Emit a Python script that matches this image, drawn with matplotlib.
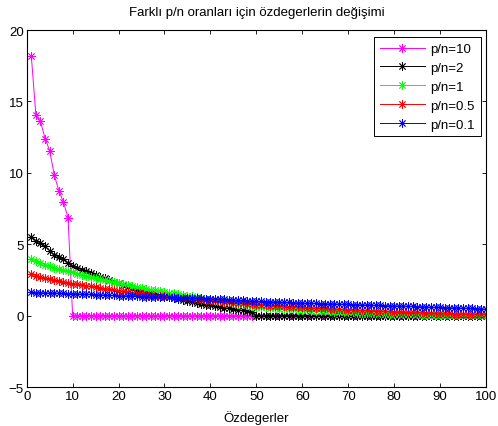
import matplotlib
matplotlib.use("Agg")
import matplotlib.pyplot as plt

plt.rcParams['font.family'] = ['Liberation Sans', 'DejaVu Sans']

eig_index = list(range(1, 101))

pn10 = [18.2, 14.05, 13.6, 12.4, 11.55, 9.85, 8.75, 7.95, 6.85, 0.0,
        0, 0, 0, 0, 0, 0, 0, 0, 0, 0,
        0, 0, 0, 0, 0, 0, 0, 0, 0, 0,
        0, 0, 0, 0, 0, 0, 0, 0, 0, 0,
        0, 0, 0, 0, 0, 0, 0, 0, 0, 0,
        0, 0, 0, 0, 0, 0, 0, 0, 0, 0,
        0, 0, 0, 0, 0, 0, 0, 0, 0, 0,
        0, 0, 0, 0, 0, 0, 0, 0, 0, 0,
        0, 0, 0, 0, 0, 0, 0, 0, 0, 0,
        0, 0, 0, 0, 0, 0, 0, 0, 0, 0]

pn2 = [5.5, 5.25, 5.1, 4.85, 4.55, 4.25, 4.1, 3.95, 3.7, 3.45,
       3.35, 3.2, 3.1, 2.95, 2.85, 2.72, 2.6, 2.5, 2.38, 2.25,
       2.12, 2.0, 1.9, 1.8, 1.72, 1.64, 1.56, 1.48, 1.4, 1.33,
       1.27, 1.2, 1.13, 1.06, 1.0, 0.94, 0.88, 0.82, 0.77, 0.72,
       0.66, 0.61, 0.56, 0.51, 0.46, 0.41, 0.36, 0.3, 0.22, 0.0,
       0, 0, 0, 0, 0, 0, 0, 0, 0, 0,
       0, 0, 0, 0, 0, 0, 0, 0, 0, 0,
       0, 0, 0, 0, 0, 0, 0, 0, 0, 0,
       0, 0, 0, 0, 0, 0, 0, 0, 0, 0,
       0, 0, 0, 0, 0, 0, 0, 0, 0, 0]

pn1 = [3.95, 3.8, 3.65, 3.55, 3.45, 3.35, 3.25, 3.17, 3.1, 3.02,
       2.94, 2.86, 2.78, 2.7, 2.62, 2.54, 2.46, 2.39, 2.32, 2.25,
       2.18, 2.12, 2.06, 2.0, 1.94, 1.88, 1.82, 1.76, 1.7, 1.65,
       1.6, 1.55, 1.5, 1.45, 1.4, 1.35, 1.3, 1.24, 1.19, 1.14,
       1.09, 1.04, 0.99, 0.94, 0.89, 0.84, 0.79, 0.74, 0.69, 0.62,
       0.6, 0.57, 0.55, 0.52, 0.49, 0.47, 0.45, 0.43, 0.41, 0.39,
       0.37, 0.35, 0.33, 0.32, 0.3, 0.29, 0.27, 0.26, 0.24, 0.23,
       0.22, 0.2, 0.19, 0.18, 0.17, 0.16, 0.15, 0.14, 0.13, 0.12,
       0.11, 0.1, 0.09, 0.09, 0.08, 0.07, 0.06, 0.06, 0.05, 0.05,
       0.04, 0.04, 0.03, 0.03, 0.02, 0.02, 0.01, 0.01, 0.01, 0.0]

pn05 = [2.9, 2.78, 2.7, 2.62, 2.55, 2.48, 2.42, 2.36, 2.3, 2.24,
        2.19, 2.14, 2.09, 2.04, 1.99, 1.94, 1.89, 1.84, 1.79, 1.74,
        1.69, 1.64, 1.59, 1.55, 1.51, 1.47, 1.43, 1.4, 1.37, 1.34,
        1.31, 1.28, 1.25, 1.22, 1.2, 1.17, 1.15, 1.12, 1.09, 1.06,
        1.03, 1.0, 0.97, 0.94, 0.91, 0.88, 0.85, 0.82, 0.79, 0.76,
        0.74, 0.72, 0.7, 0.68, 0.66, 0.65, 0.63, 0.61, 0.6, 0.58,
        0.56, 0.55, 0.53, 0.52, 0.5, 0.49, 0.47, 0.46, 0.44, 0.42,
        0.41, 0.39, 0.38, 0.37, 0.35, 0.34, 0.32, 0.31, 0.3, 0.28,
        0.27, 0.26, 0.25, 0.24, 0.23, 0.22, 0.21, 0.2, 0.19, 0.17,
        0.16, 0.15, 0.14, 0.13, 0.12, 0.11, 0.1, 0.09, 0.09, 0.08]

pn01 = [1.63, 1.61, 1.6, 1.59, 1.58, 1.57, 1.56, 1.55, 1.54, 1.53,
        1.52, 1.5, 1.49, 1.48, 1.46, 1.45, 1.44, 1.42, 1.41, 1.4,
        1.38, 1.37, 1.35, 1.34, 1.33, 1.32, 1.31, 1.3, 1.29, 1.28,
        1.27, 1.26, 1.25, 1.24, 1.23, 1.22, 1.21, 1.2, 1.18, 1.17,
        1.16, 1.14, 1.13, 1.12, 1.1, 1.09, 1.07, 1.05, 1.03, 1.0,
        0.99, 0.98, 0.97, 0.96, 0.95, 0.94, 0.92, 0.91, 0.9, 0.88,
        0.87, 0.86, 0.85, 0.84, 0.83, 0.82, 0.81, 0.8, 0.79, 0.78,
        0.77, 0.76, 0.75, 0.74, 0.73, 0.72, 0.71, 0.7, 0.69, 0.68,
        0.67, 0.66, 0.65, 0.64, 0.63, 0.62, 0.61, 0.6, 0.58, 0.57,
        0.56, 0.55, 0.54, 0.53, 0.52, 0.51, 0.5, 0.48, 0.47, 0.45]

series = [
    ("p/n=10", pn10, (1, 0, 1)),
    ("p/n=2", pn2, (0, 0, 0)),
    ("p/n=1", pn1, (0, 1, 0)),
    ("p/n=0.5", pn05, (1, 0, 0)),
    ("p/n=0.1", pn01, (0, 0, 1)),
]

x_ticks = [0, 10, 20, 30, 40, 50, 60, 70, 80, 90, 100]
y_ticks = [-5, 0, 5, 10, 15, 20]

FS = 9.5

fig = plt.figure(figsize=(4.98, 4.27), dpi=100)
ax = fig.add_axes([0.0536, 0.0913, 0.9224, 0.8361])

for label, vals, col in series:
    ax.plot(eig_index, vals, color=col, lw=0.7, marker=(8, 2, 0),
            markersize=6, markeredgewidth=0.6, label=label)

ax.set_xlim(0, 100)
ax.set_ylim(-5, 20)
ax.set_xticks(x_ticks)
ax.set_yticks(y_ticks)
ax.tick_params(direction='in', top=True, right=True, labelsize=FS,
               length=3, width=0.6, pad=2)
for s in ax.spines.values():
    s.set_linewidth(0.8)

ax.set_title("Farklı p/n oranları için özdegerlerin değişimi", fontsize=FS, pad=11)
ax.set_xlabel("Özdegerler", fontsize=FS, labelpad=6)

leg = ax.legend(loc='upper right', bbox_to_anchor=(0.966, 0.911),
                bbox_transform=fig.transFigure, fontsize=FS, numpoints=1,
                handlelength=3.4, handletextpad=0.45, labelspacing=0.5,
                borderpad=0.45, fancybox=False, framealpha=1, borderaxespad=0)
leg.get_frame().set_edgecolor('black')
leg.get_frame().set_linewidth(0.7)

fig.savefig("out.png", dpi=100)
